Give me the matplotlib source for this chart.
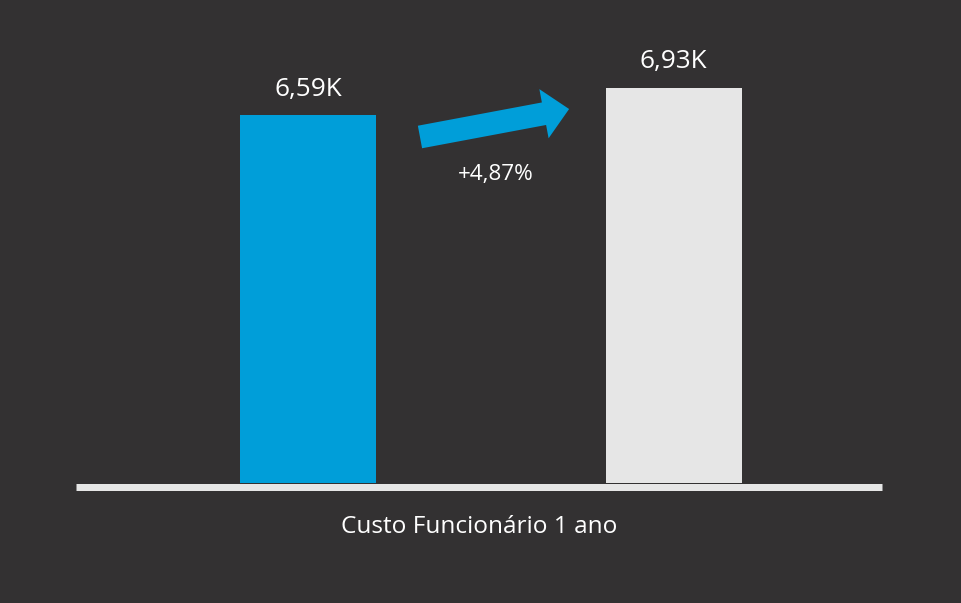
import matplotlib
matplotlib.use("Agg")
import matplotlib.pyplot as plt
from matplotlib.patches import FancyArrowPatch

# ---- data ----
series = ["Ano anterior", "Ano atual"]
values = [6.59, 6.93]            # in thousands
value_labels = ["6,59K", "6,93K"]
category = "Custo Funcionário 1 ano"
change_label = "+4,87%"
y_min = 2.0

# ---- style ----
BG = "#333132"
BLUE = "#009ED9"
GRAY = "#E6E6E6"
WHITE = "#FFFFFF"
plt.rcParams["font.family"] = ["Open Sans", "DejaVu Sans"]

W, H, DPI = 961, 603, 100
fig = plt.figure(figsize=(W / DPI, H / DPI), dpi=DPI, facecolor=BG)

ax_left, ax_right = 76, 882
ax_bottom, ax_top = 483, 40
ax = fig.add_axes([ax_left / W, (H - ax_bottom) / H,
                   (ax_right - ax_left) / W, (ax_bottom - ax_top) / H])
ax.set_facecolor(BG)

px_per_unit_y = 80.17
ax.set_ylim(y_min, y_min + (ax_bottom - ax_top) / px_per_unit_y)
ax.set_xlim(-0.635, 1.570)

x = list(range(len(values)))
bars = ax.bar(x, values, width=0.372, color=[BLUE, GRAY], zorder=2)

for xi, v, lab in zip(x, values, value_labels):
    ax.annotate(lab, (xi, v), xytext=(0, 14), textcoords="offset points",
                ha="center", va="baseline", color=WHITE, fontsize=18.8)

# arrow between bars
arrow = FancyArrowPatch((0.306, 6.316), (0.714, 6.665),
                        arrowstyle="simple,head_length=18.4,head_width=36,tail_width=16.5",
                        mutation_scale=1, shrinkA=0, shrinkB=0,
                        color=BLUE, lw=0, zorder=3)
ax.add_patch(arrow)
ax.text(0.512, 5.78, change_label, ha="center", va="baseline",
        color=WHITE, fontsize=16.2)

# baseline
for s in ["top", "right", "left"]:
    ax.spines[s].set_visible(False)
ax.spines["bottom"].set_color(GRAY)
ax.spines["bottom"].set_linewidth(7 * 0.72)
ax.spines["bottom"].set_position(("outward", 3.5 * 0.72))
ax.spines["bottom"].set_capstyle("butt")
ax.set_xticks([])
ax.set_yticks([])

ax.text(0.5, -50 / (ax_bottom - ax_top), category, transform=ax.transAxes,
        ha="center", va="baseline", color=WHITE, fontsize=17.6)

fig.savefig("out.png", dpi=DPI, facecolor=BG)
